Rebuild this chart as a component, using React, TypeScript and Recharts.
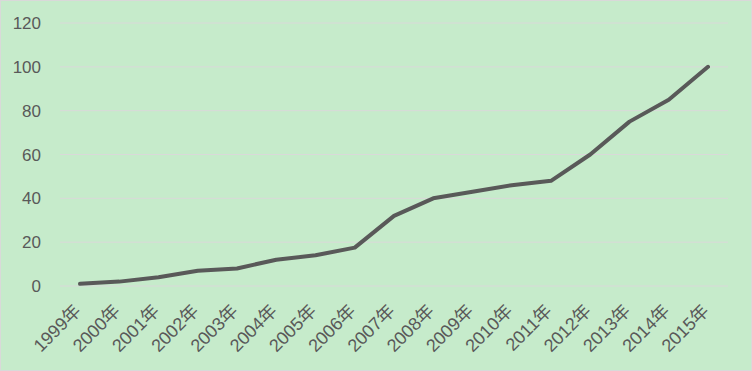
import { LineChart, Line, XAxis, YAxis, CartesianGrid } from 'recharts'

const years = [
  '1999年', '2000年', '2001年', '2002年', '2003年', '2004年', '2005年', '2006年', '2007年',
  '2008年', '2009年', '2010年', '2011年', '2012年', '2013年', '2014年', '2015年',
]
const values = [1, 2, 4, 7, 8, 12, 14, 17.5, 32, 40, 43, 46, 48, 60, 75, 85, 100]
const yTicks = [0, 20, 40, 60, 80, 100, 120]

const data = years.map((year, i) => ({ year, value: values[i] }))

const font = '"Liberation Sans", "Noto Sans CJK SC", sans-serif'

function YearTick({ x, y, payload }: any) {
  const ax = x + 2
  const ay = y + 18
  return (
    <text
      x={ax}
      y={ay}
      textAnchor="end"
      fill="#595959"
      fontSize={18}
      fontFamily={font}
      transform={`rotate(-45, ${ax}, ${ay})`}
    >
      {payload.value}
    </text>
  )
}

export default function App() {
  return (
    <div style={{ position: 'absolute', left: 0, top: 0, width: 752, height: 371 }}>
      <div
        style={{
          width: 750,
          height: 369,
          background: '#c6ebcb',
          border: '1px solid #d9d9d9',
        }}
      >
        <LineChart
          width={750}
          height={369}
          data={data}
          margin={{ top: 22, right: 23, left: 0, bottom: 0 }}
        >
          <CartesianGrid vertical={false} stroke="#d9d9d9" strokeWidth={1} />
          <XAxis
            dataKey="year"
            axisLine={false}
            tickLine={false}
            interval={0}
            height={84}
            padding={{ left: 20, right: 20 }}
            tick={<YearTick />}
          />
          <YAxis
            domain={[0, 120]}
            ticks={yTicks}
            axisLine={false}
            tickLine={false}
            width={59}
            tickMargin={13}
            tick={{ fill: '#595959', fontSize: 17, fontFamily: font }}
          />
          <Line
            type="linear"
            dataKey="value"
            stroke="#595959"
            strokeWidth={4}
            dot={false}
            strokeLinecap="round"
            strokeLinejoin="round"
            isAnimationActive={false}
          />
        </LineChart>
      </div>
    </div>
  )
}
